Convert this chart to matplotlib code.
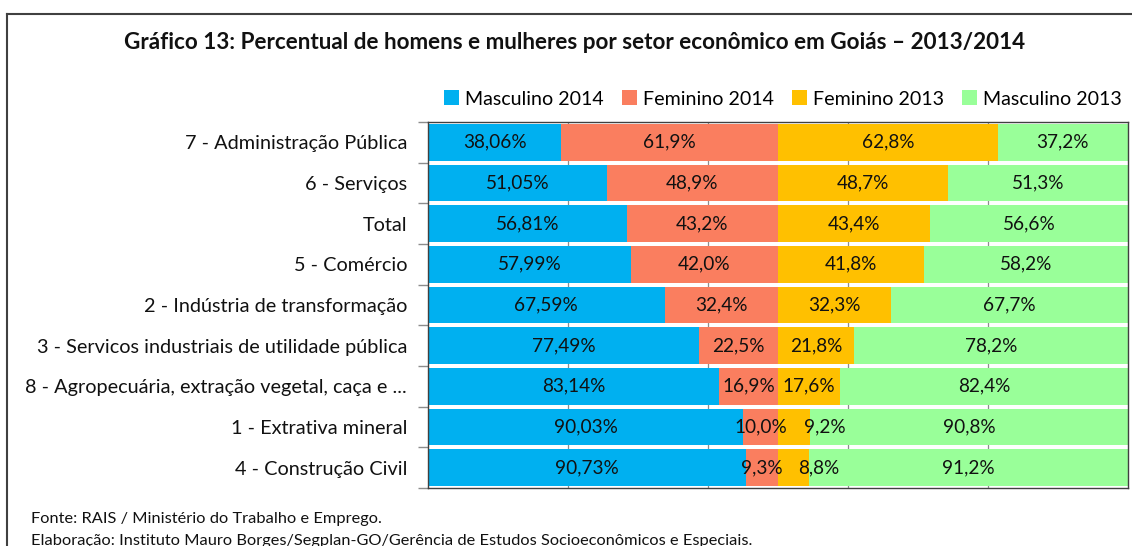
import matplotlib
matplotlib.use("Agg")
import matplotlib.pyplot as plt
from matplotlib.lines import Line2D
import numpy as np

plt.rcParams['font.family'] = ['Lato', 'DejaVu Sans']

# ---- data ----
categories = [
    "7 - Administração Pública",
    "6 - Serviços",
    "Total",
    "5 - Comércio",
    "2 - Indústria de transformação",
    "3 - Servicos industriais de utilidade pública",
    "8 - Agropecuária, extração vegetal, caça e ...",
    "1 - Extrativa mineral",
    "4 - Construção Civil",
]
masc_2014 = [38.06, 51.05, 56.81, 57.99, 67.59, 77.49, 83.14, 90.03, 90.73]
fem_2014 = [61.9, 48.9, 43.2, 42.0, 32.4, 22.5, 16.9, 10.0, 9.3]
fem_2013 = [62.8, 48.7, 43.4, 41.8, 32.3, 21.8, 17.6, 9.2, 8.8]
masc_2013 = [37.2, 51.3, 56.6, 58.2, 67.7, 78.2, 82.4, 90.8, 91.2]

series_names = ["Masculino 2014", "Feminino 2014", "Feminino 2013", "Masculino 2013"]
series_vals = [masc_2014, fem_2014, fem_2013, masc_2013]
series_decimals = [2, 1, 1, 1]
series_colors = ["#00B0F0", "#FA7E5F", "#FFC000", "#99FF99"]

title = "Gráfico 13: Percentual de homens e mulheres por setor econômico em Goiás – 2013/2014"
source_lines = [
    "Fonte: RAIS / Ministério do Trabalho e Emprego.",
    "Elaboração: Instituto Mauro Borges/Segplan-GO/Gerência de Estudos Socioeconômicos e Especiais.",
]

# label nudges (display offsets in points) for crowded labels: (series index, row index)
label_nudge = {(2, 7): 22, (2, 8): 18}

W, H = 1132, 546
fig = plt.figure(figsize=(W / 100, H / 100), dpi=100)
ax = fig.add_axes([428 / W, 1 - 488 / H, (1128 - 428) / W, (488 - 122) / H])

y = np.arange(len(categories))
left = np.zeros(len(categories))
for si, (name, vals, col) in enumerate(zip(series_names, series_vals, series_colors)):
    vals = np.array(vals)
    ax.barh(y, vals, left=left, height=0.9, color=col, label=name, zorder=2)
    for ri, (l, v) in enumerate(zip(left, vals)):
        txt = f"{v:.{series_decimals[si]}f}%".replace(".", ",")
        ax.annotate(txt, (l + v / 2, ri), xytext=(label_nudge.get((si, ri), 0), 0),
                    textcoords="offset points", ha="center", va="center",
                    fontsize=13.7, color="#111111", zorder=3)
    left = left + vals

ax.set_xlim(0, 200)
ax.set_ylim(len(categories) - 0.5, -0.5)
ax.set_xticks([40, 80, 120, 160])
ax.tick_params(axis="x", length=0, labelbottom=False)
ax.grid(axis="x", color="#8C8C8C", linewidth=0.9, zorder=0)
ax.set_axisbelow(True)

ax.set_yticks(y)
ax.set_yticklabels(categories, fontsize=14.3, color="#111111")
ax.tick_params(axis="y", which="major", length=0, pad=15)
ax.set_yticks(np.arange(-0.5, len(categories) + 0.5, 1), minor=True)
ax.tick_params(axis="y", which="minor", length=7, color="#8C8C8C", width=1)

for s in ax.spines.values():
    s.set_color("#404040")
    s.set_linewidth(1.0)

fig.text(575 / W, 1 - 43 / H, title, ha="center", va="center",
         fontsize=16.2, fontweight="bold", color="#111111")

fig.legend(loc="center", bbox_to_anchor=(783 / W, 1 - 99 / H), ncol=4, frameon=False,
           fontsize=14.1, handlelength=0.75, handleheight=0.75, handletextpad=0.3,
           columnspacing=0.95, borderpad=0)

fig.text(31 / W, 1 - 519 / H, source_lines[0], ha="left", va="center", fontsize=11.8, color="#111111")
fig.text(31 / W, 1 - 541 / H, source_lines[1], ha="left", va="center", fontsize=11.8, color="#111111")

# chart frame (extends past image bottom/right)
fig.add_artist(Line2D([7 / W, 1.0], [1 - 14 / H, 1 - 14 / H], transform=fig.transFigure,
                      color="#404040", linewidth=1.5))
fig.add_artist(Line2D([7 / W, 7 / W], [0.0, 1 - 14 / H], transform=fig.transFigure,
                      color="#404040", linewidth=1.5))

fig.savefig("out.png", dpi=100, facecolor="white")
